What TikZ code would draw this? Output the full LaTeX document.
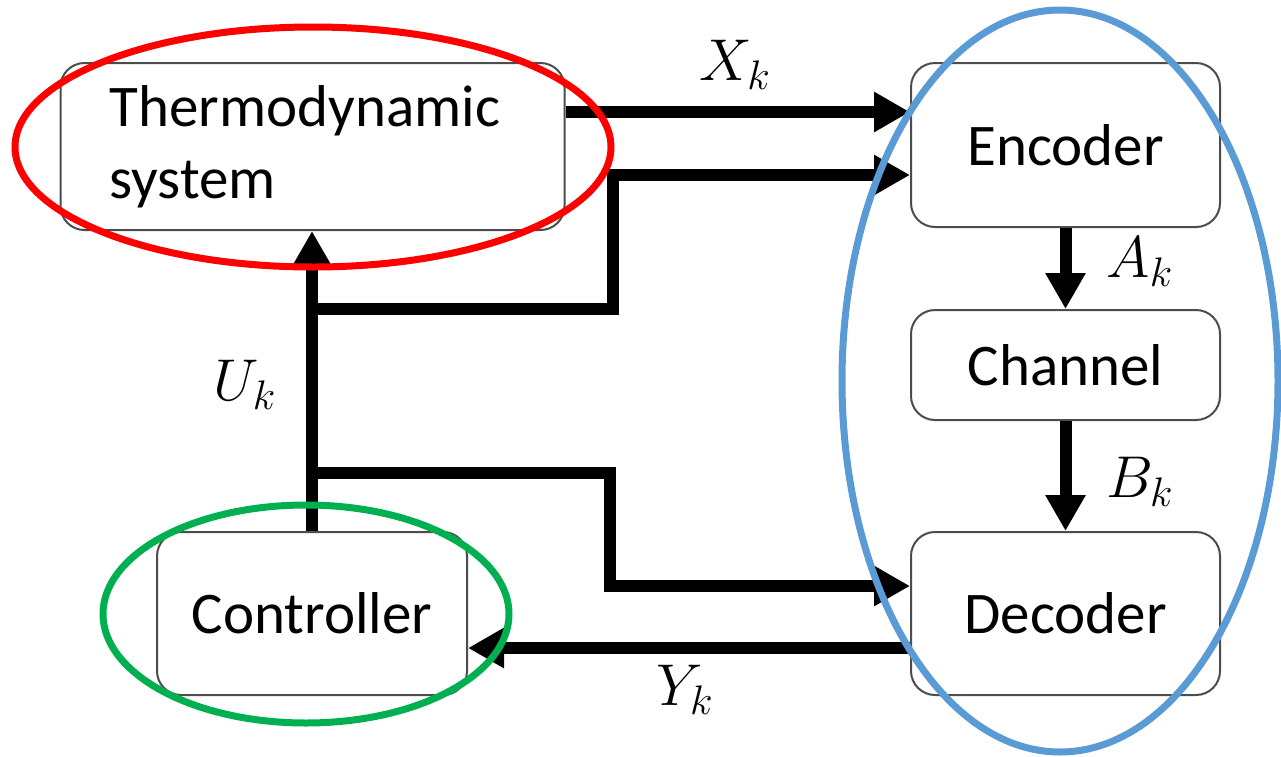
\RequirePackage{fix-cm}
\documentclass[tikz,border=0pt]{standalone}
\usepackage{fontspec}
\setmainfont{Carlito}
\usetikzlibrary{arrows.meta}

\definecolor{ringred}{RGB}{255,0,0}
\definecolor{ringgreen}{RGB}{0,176,80}
\definecolor{ringblue}{RGB}{91,155,213}

\tikzset{
  block/.style={draw=black!70, line width=1pt, rounded corners=12pt, fill=white,
    inner sep=0pt, font=\fontsize{29.5}{36}\selectfont},
  sig/.style={line width=6pt, -{Triangle[length=18pt,width=19pt]}},
  ring/.style={line width=3.5pt},
  lbl/.style={inner sep=0pt, font=\fontsize{29.5}{36}\selectfont}
}

\begin{document}
\begin{tikzpicture}[x=0.5pt,y=-0.5pt]
    \useasboundingbox (0,0) rectangle (1281,756);

    % Blocks
    \node[block, minimum width=252pt, minimum height=83.5pt, text width=203pt,
      inner xsep=24.5pt, align=left] (thermo) at (312.5,146.5) {Thermodynamic\\system};
    \node[block, minimum width=154.5pt, minimum height=82pt] (encoder) at (1065.5,145) {Encoder};
    \node[block, minimum width=154.5pt, minimum height=55pt] (channel) at (1065.5,365) {Channel};
    \node[block, minimum width=154.5pt, minimum height=81.5pt] (decoder) at (1065.5,613.5) {Decoder};
    \node[block, minimum width=155pt, minimum height=81.5pt] (controller) at (312,613.5) {Controller};

    % Signal rows and bends
    \coordinate (xrow) at (0,112);
    \coordinate (yrow) at (0,648);
    \coordinate (upbr) at (312,309);
    \coordinate (upbend) at (613,175);
    \coordinate (lowbr) at (312,473);
    \coordinate (lowbend) at (610,586);

    % Connectors
    \draw[sig] (thermo.east |- xrow) -- (encoder.west |- xrow);
    \draw[sig] (controller.north) -- (controller.north |- thermo.south);
    \draw[sig] (upbr) -| (upbend) -- (encoder.west |- upbend);
    \draw[sig] (lowbr) -| (lowbend) -- (decoder.west |- lowbend);
    \draw[sig] (encoder.south) -- (channel.north);
    \draw[sig] (channel.south) -- (decoder.north);
    \draw[sig] (decoder.west |- yrow) -- (controller.east |- yrow);

    % Labels
    \node[lbl] (xk) at (735,65) {$X_k$};
    \node[lbl] (ak) at (1140,262) {$A_k$};
    \node[lbl] (bk) at (1140,482) {$B_k$};
    \node[lbl] (uk) at (245,385) {$U_k$};
    \node[lbl] (yk) at (685,690) {$Y_k$};

    % Grouping rings
    \draw[ring, ringred] (313,147) ellipse [x radius=149pt, y radius=60pt];
    \draw[ring, ringgreen] (306,614) ellipse [x radius=101.5pt, y radius=54.5pt];
    \draw[ring, ringblue] (1060,381) ellipse [x radius=109pt, y radius=185.5pt];
\end{tikzpicture}
\end{document}
